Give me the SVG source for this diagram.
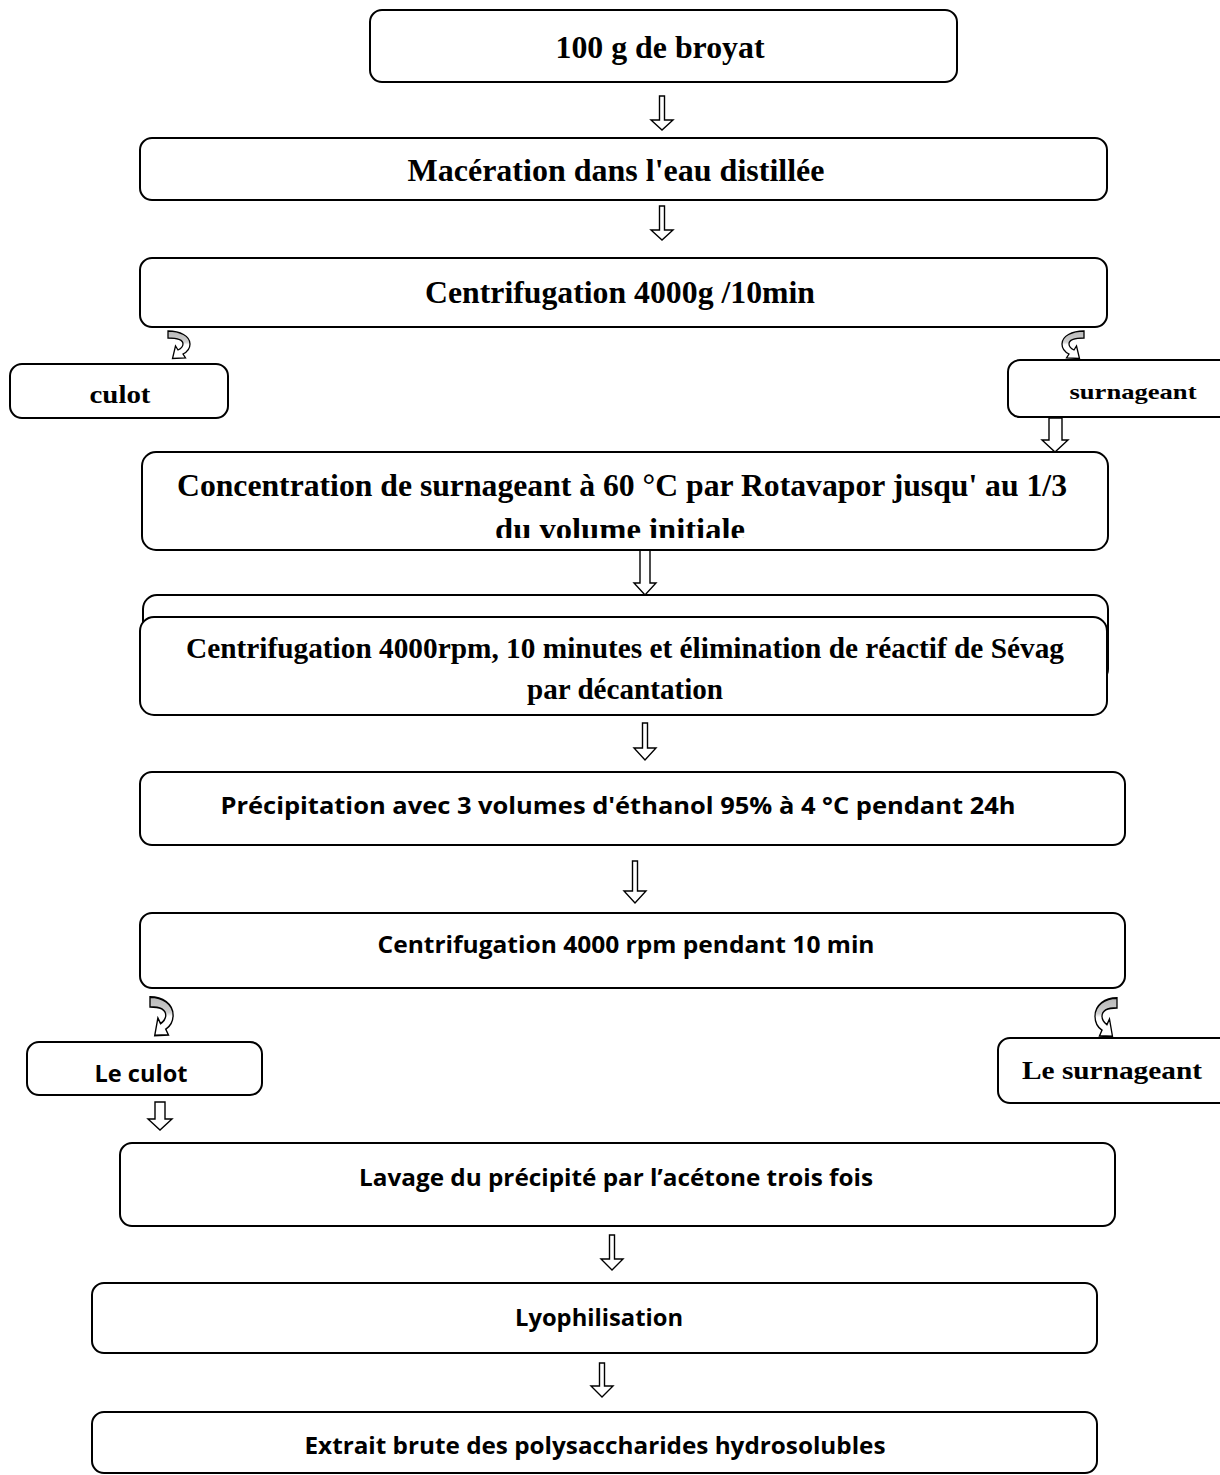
<svg xmlns="http://www.w3.org/2000/svg" width="1220" height="1475" viewBox="0 0 1220 1475">
<style>
.box{fill:#fff;stroke:#000;stroke-width:2}
.ser{font-family:"Liberation Serif","Times New Roman",serif;font-weight:bold;fill:#000}
.san{font-family:"Open Sans","Liberation Sans",sans-serif;font-weight:bold;fill:#000}
.arr{fill:#fff;stroke:#000;stroke-width:1.4;stroke-linejoin:miter}
.curl{fill:url(#curlg);stroke:#000;stroke-width:1.3}
</style>
<defs>
<linearGradient id="curlg" x1="0" y1="0" x2="0" y2="1">
<stop offset="0" stop-color="#b8b8b8"/>
<stop offset="0.4" stop-color="#cfcfcf"/>
<stop offset="0.5" stop-color="#fff"/>
<stop offset="1" stop-color="#fff"/>
</linearGradient>
<path id="curl" d="M0,0 C12,0 22,5 22,13 C22,18 19,21 15,23 L17.5,27 L4.5,27.5 L7.5,15 L10,19 C14,17 15,15 15,13 C15,9 9,7 0,7 Z"/>
<clipPath id="cut"><rect x="140" y="450" width="970" height="88"/></clipPath>
</defs>

<g id="connectors">
<path class="arr" d="M659.5,96 h5 v24 h8.5 l-11,10 l-11,-10 h8.5 z"/>
<path class="arr" d="M659.5,206 h5 v24 h8.5 l-11,10 l-11,-10 h8.5 z"/>
<path class="arr" d="M1049,418 h13 v22 h6 l-13,12 l-13,-12 h7 z"/>
<path class="arr" d="M640,550 h10 v33 h6 l-11,12 l-11,-12 h6 z"/>
<path class="arr" d="M642.5,723 h5 v25 h8.5 l-11,12 l-11,-12 h8.5 z"/>
<path class="arr" d="M632.5,861 h5 v30 h8.5 l-11,12 l-11,-12 h8.5 z"/>
<path class="arr" d="M155,1102 h10 v17 h7 l-12,11 l-12,-11 h7 z"/>
<path class="arr" d="M609.5,1235 h5 v24 h8.5 l-11,11 l-11,-11 h8.5 z"/>
<path class="arr" d="M599.5,1363 h5 v23 h8.5 l-11,11 l-11,-11 h8.5 z"/>
<use href="#curl" class="curl" transform="translate(168,331)"/>
<use href="#curl" class="curl" transform="translate(1084,331) scale(-1,1)"/>
<use href="#curl" class="curl" transform="translate(150,997) scale(1.05,1.4)"/>
<use href="#curl" class="curl" transform="translate(1117,998) scale(-1,1.4)"/>
</g>

<g id="n1">
<rect class="box" x="370" y="10" width="587" height="72" rx="12"/>
<text class="ser" x="660" y="58" font-size="31" text-anchor="middle" textLength="209" lengthAdjust="spacingAndGlyphs">100 g de broyat</text>
</g>
<g id="n2">
<rect class="box" x="140" y="138" width="967" height="62" rx="12"/>
<text class="ser" x="616" y="181" font-size="31" text-anchor="middle" textLength="417" lengthAdjust="spacingAndGlyphs">Macération dans l'eau distillée</text>
</g>
<g id="n3">
<rect class="box" x="140" y="258" width="967" height="69" rx="12"/>
<text class="ser" x="620" y="303" font-size="31" text-anchor="middle" textLength="390" lengthAdjust="spacingAndGlyphs">Centrifugation 4000g /10min</text>
</g>
<g id="n4">
<rect class="box" x="10" y="364" width="218" height="54" rx="12"/>
<text class="ser" x="120" y="403" font-size="26" text-anchor="middle" textLength="61" lengthAdjust="spacingAndGlyphs">culot</text>
</g>
<g id="n5">
<rect class="box" x="1008" y="360" width="230" height="57" rx="12"/>
<text class="ser" x="1133" y="399" font-size="22" text-anchor="middle" textLength="127" lengthAdjust="spacingAndGlyphs">surnageant</text>
</g>
<g id="n6">
<rect class="box" x="142" y="452" width="966" height="98" rx="14"/>
<text class="ser" x="622" y="496" font-size="32" text-anchor="middle" textLength="890" lengthAdjust="spacingAndGlyphs">Concentration de surnageant à 60 °C par Rotavapor jusqu' au 1/3</text>
<text class="ser" x="620" y="540" font-size="32" text-anchor="middle" textLength="250" lengthAdjust="spacingAndGlyphs" clip-path="url(#cut)">du  volume initiale</text>
</g>
<g id="n7">
<rect class="box" x="143" y="595" width="965" height="88" rx="14"/>
<rect class="box" x="140" y="617" width="967" height="98" rx="14"/>
<text class="ser" x="625" y="658" font-size="29" text-anchor="middle" textLength="878" lengthAdjust="spacingAndGlyphs">Centrifugation 4000rpm, 10 minutes et élimination de réactif de Sévag</text>
<text class="ser" x="625" y="699" font-size="29" text-anchor="middle" textLength="196" lengthAdjust="spacingAndGlyphs">par décantation</text>
</g>
<g id="n8">
<rect class="box" x="140" y="772" width="985" height="73" rx="12"/>
<text class="san" x="618" y="814" font-size="24" text-anchor="middle" textLength="795" lengthAdjust="spacingAndGlyphs">Précipitation avec 3 volumes d'éthanol 95% à 4 °C pendant 24h</text>
</g>
<g id="n9">
<rect class="box" x="140" y="913" width="985" height="75" rx="12"/>
<text class="san" x="626" y="953" font-size="24" text-anchor="middle" textLength="497" lengthAdjust="spacingAndGlyphs">Centrifugation 4000 rpm pendant 10 min</text>
</g>
<g id="n10">
<rect class="box" x="27" y="1042" width="235" height="53" rx="12"/>
<text class="san" x="141" y="1082" font-size="24" text-anchor="middle" textLength="93" lengthAdjust="spacingAndGlyphs">Le culot</text>
</g>
<g id="n11">
<rect class="box" x="998" y="1038" width="240" height="65" rx="12"/>
<text class="ser" x="1112" y="1079" font-size="26" text-anchor="middle" textLength="180" lengthAdjust="spacingAndGlyphs">Le surnageant</text>
</g>
<g id="n12">
<rect class="box" x="120" y="1143" width="995" height="83" rx="12"/>
<text class="san" x="616" y="1186" font-size="24" text-anchor="middle" textLength="514" lengthAdjust="spacingAndGlyphs">Lavage du précipité par l’acétone trois fois</text>
</g>
<g id="n13">
<rect class="box" x="92" y="1283" width="1005" height="70" rx="12"/>
<text class="san" x="599" y="1326" font-size="24" text-anchor="middle" textLength="168" lengthAdjust="spacingAndGlyphs">Lyophilisation</text>
</g>
<g id="n14">
<rect class="box" x="92" y="1412" width="1005" height="61" rx="12"/>
<text class="san" x="595" y="1454" font-size="24" text-anchor="middle" textLength="581" lengthAdjust="spacingAndGlyphs">Extrait brute des polysaccharides hydrosolubles</text>
</g>
</svg>
